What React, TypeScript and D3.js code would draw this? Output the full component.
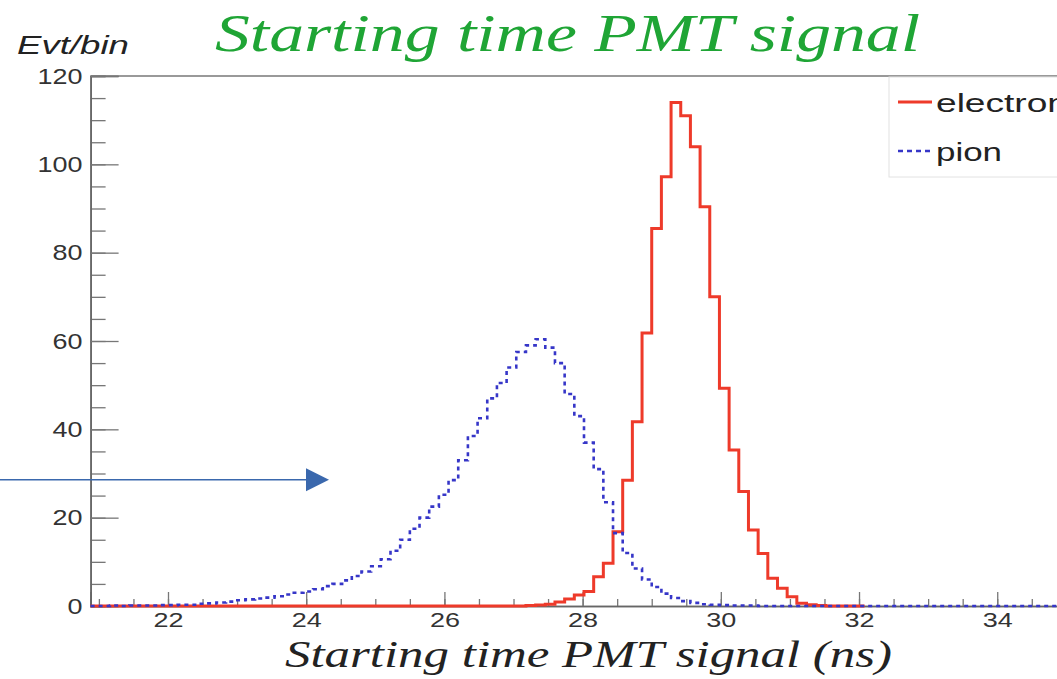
import { useEffect, useRef } from 'react';
import * as d3 from 'd3';

// histogram binning (ns)
const binStart = 20.88;
const binWidth = 0.14;

// counts per bin
const electronCounts = [
  0, 0, 0, 0, 0, 0, 0, 0, 0, 0,
  0, 0, 0, 0, 0, 0, 0, 0, 0, 0,
  0, 0, 0, 0, 0, 0, 0, 0, 0, 0,
  0, 0, 0, 0, 0, 0, 0, 0, 0, 0,
  0, 0, 0, 0, 0, 0.1, 0.2, 0.4, 0.9, 1.6,
  2.5, 3.3, 6.6, 9.7, 16.8, 28.5, 41.7, 61.8, 85.5, 97.2,
  114, 111, 104, 90.4, 70, 49.3, 35.3, 25.9, 17.2, 11.9,
  6.3, 4.0, 2.1, 0.6, 0.3, 0.1, 0, 0, 0, 0,
];

const pionCounts = [
  0, 0, 0.1, 0, 0.1, 0.1, 0.1, 0.2, 0.2, 0.3,
  0.3, 0.5, 0.6, 0.8, 1.0, 1.3, 1.5, 1.7, 1.9, 2.2,
  2.6, 3.0, 3.3, 3.8, 4.5, 5.0, 5.8, 6.8, 7.8, 9.0,
  10.6, 12.5, 15.0, 17.5, 20.0, 22.5, 25.2, 28.5, 33, 38.5,
  42.5, 47, 50.5, 54, 57.5, 59, 60.4, 58.5, 55, 48,
  43, 37, 31, 23.5, 16.5, 12, 8.5, 6.0, 4.3, 2.8,
  1.8, 1.1, 0.7, 0.4, 0.3, 0.2, 0.1, 0.1, 0.1, 0,
  0, 0, 0, 0, 0, 0, 0, 0, 0, 0,
  0, 0, 0, 0, 0, 0, 0, 0, 0, 0,
  0, 0, 0, 0, 0, 0, 0, 0, 0, 0,
  0,
];

const xTicks = [22, 24, 26, 28, 30, 32, 34];
const yTicks = [0, 20, 40, 60, 80, 100, 120];
const seriesNames = ['electron', 'pion'];
const titleText = 'Starting time PMT signal';
const xTitleText = 'Starting time PMT signal (ns)';
const yTitleText = 'Evt/bin';
// annotation arrow tip, in data units (ns, evt/bin)
const arrowTip = [24.33, 28.6];

const RED = '#ee3a2a';
const BLUE = '#3636c8';
const SANS = '"Liberation Sans", Arial, sans-serif';
const SERIF = '"Liberation Serif", "Times New Roman", serif';

export default function App() {
  const svgRef = useRef<SVGSVGElement>(null);

  useEffect(() => {
    const w = 1057;
    const h = 679;
    const svg = d3.select(svgRef.current)
      .attr('width', w)
      .attr('height', h)
      .style('background', '#fff');
    svg.selectAll('*').remove();

    const x = d3.scaleLinear().domain([20.88, 35.6]).range([90.6, 1107.8]);
    const y = d3.scaleLinear().domain([0, 120]).range([606, 76]);

    // frame top line
    svg.append('line')
      .attr('x1', x.range()[0]).attr('x2', x.range()[1])
      .attr('y1', y(120)).attr('y2', y(120))
      .attr('stroke', '#777').attr('stroke-width', 1.5);

    // histograms as steps
    const step = d3.line<[number, number]>()
      .x(d => x(d[0]))
      .y(d => y(d[1]))
      .curve(d3.curveStepAfter);
    const toPoints = (counts: number[]) => {
      const pts: [number, number][] = counts.map((c, i) => [binStart + i * binWidth, c]);
      pts.push([binStart + counts.length * binWidth, counts[counts.length - 1]]);
      return pts;
    };

    // axes
    const xMinor = d3.axisBottom(x).ticks(30).tickSize(-7).tickFormat(() => '');
    const xMajor = d3.axisBottom(x).tickValues(xTicks).tickSize(-14).tickPadding(7);
    const yMinor = d3.axisLeft(y).ticks(24).tickSize(-15).tickFormat(() => '');
    const yMajor = d3.axisLeft(y).tickValues(yTicks).tickSize(-28).tickPadding(8);

    const gx = svg.append('g').attr('transform', `translate(0, ${y(0)})`);
    gx.append('g').call(xMinor);
    gx.append('g').call(xMajor);
    const gy = svg.append('g').attr('transform', `translate(${x(binStart)}, 0)`);
    gy.append('g').call(yMinor);
    gy.append('g').call(yMajor);

    svg.selectAll('.domain').attr('stroke', '#666').attr('stroke-width', 1.5);
    svg.selectAll('.tick line').attr('stroke', '#777').attr('stroke-width', 1.3);
    gx.selectAll('.tick text')
      .attr('font-family', SANS).attr('font-size', 20).attr('fill', '#333')
      .attr('textLength', 30).attr('lengthAdjust', 'spacingAndGlyphs');
    gy.selectAll('.tick text')
      .attr('font-family', SANS).attr('font-size', 22).attr('fill', '#333')
      .attr('textLength', (d: any) => String(d).length * 15)
      .attr('lengthAdjust', 'spacingAndGlyphs');

    svg.append('path')
      .datum(toPoints(electronCounts))
      .attr('d', step)
      .attr('fill', 'none')
      .attr('stroke', RED)
      .attr('stroke-width', 3);

    svg.append('path')
      .datum(toPoints(pionCounts))
      .attr('d', step)
      .attr('fill', 'none')
      .attr('stroke', BLUE)
      .attr('stroke-width', 2.6)
      .attr('stroke-dasharray', '4 4');

    // legend
    const lg = svg.append('g');
    lg.append('rect')
      .attr('x', 889).attr('y', 77).attr('width', 220).attr('height', 100)
      .attr('fill', '#fff').attr('stroke', '#e2e2e2').attr('stroke-width', 1);
    seriesNames.forEach((name, i) => {
      const ly = 102 + i * 49;
      lg.append('line')
        .attr('x1', 898).attr('x2', 932).attr('y1', ly).attr('y2', ly)
        .attr('stroke', i === 0 ? RED : BLUE)
        .attr('stroke-width', i === 0 ? 3 : 2.6)
        .attr('stroke-dasharray', i === 0 ? null : '5 4');
      lg.append('text')
        .attr('x', 936).attr('y', ly + 10)
        .attr('font-family', SANS).attr('font-size', 25).attr('fill', '#222')
        .attr('textLength', name.length * 16.5).attr('lengthAdjust', 'spacingAndGlyphs')
        .text(name);
    });

    // titles
    svg.append('text')
      .attr('x', 215).attr('y', 51)
      .attr('font-family', SERIF).attr('font-style', 'italic')
      .attr('font-size', 53).attr('fill', '#1fa535')
      .attr('textLength', 705).attr('lengthAdjust', 'spacingAndGlyphs')
      .text(titleText);
    svg.append('text')
      .attr('x', 17).attr('y', 54)
      .attr('font-family', SANS).attr('font-style', 'italic')
      .attr('font-size', 25).attr('fill', '#222')
      .attr('textLength', 112).attr('lengthAdjust', 'spacingAndGlyphs')
      .text(yTitleText);
    svg.append('text')
      .attr('x', 285).attr('y', 667)
      .attr('font-family', SERIF).attr('font-style', 'italic')
      .attr('font-size', 37).attr('fill', '#222')
      .attr('textLength', 607).attr('lengthAdjust', 'spacingAndGlyphs')
      .text(xTitleText);

    // annotation arrow
    const ax = x(arrowTip[0]);
    const ay = y(arrowTip[1]);
    svg.append('line')
      .attr('x1', 0).attr('x2', ax - 20).attr('y1', ay).attr('y2', ay)
      .attr('stroke', '#3a68ad').attr('stroke-width', 1.5);
    svg.append('path')
      .attr('d', `M${ax},${ay} L${ax - 23},${ay - 11.5} L${ax - 23},${ay + 11.5} Z`)
      .attr('fill', '#3a68ad');
  }, []);

  return (
    <svg
      ref={svgRef}
      style={{ position: 'absolute', left: 0, top: 0, display: 'block' }}
    />
  );
}
